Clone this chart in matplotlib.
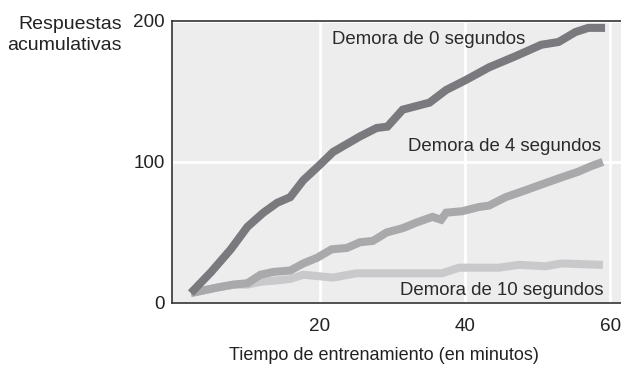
import matplotlib.pyplot as plt

# minutes of training and cumulative responses for each delay condition
min_0 = [2.2, 5.0, 7.7, 10.0, 12.2, 14.1, 15.9, 17.7, 20.0, 21.8, 25.5, 27.8, 29.3,
         31.4, 35.1, 37.4, 40.1, 43.3, 47.0, 50.5, 52.9, 55.2, 57.0, 59.3]
resp_0 = [7, 22, 38, 54, 64, 71, 75, 87, 98, 107, 118, 124, 125,
          137, 142, 151, 158, 167, 175, 183, 185, 192, 195, 195]

min_4 = [2.2, 5.9, 8.1, 10.0, 11.8, 13.6, 15.9, 17.7, 19.6, 21.6, 23.7, 25.5, 27.3, 29.2,
         31.4, 33.3, 35.5, 36.7, 37.4, 39.6, 41.9, 43.3, 45.6, 48.4, 51.1, 53.3, 55.6, 57.4, 59.0]
resp_4 = [7, 11, 13, 14, 20, 22, 23, 28, 32, 38, 39, 43, 44, 50,
          53, 57, 61, 59, 64, 65, 68, 69, 75, 80, 85, 89, 93, 97, 100]

min_10 = [2.2, 5.9, 8.1, 10.0, 11.8, 14.1, 15.9, 17.7, 21.8, 25.0, 26.8, 29.6,
          33.3, 36.8, 39.2, 44.7, 47.4, 51.1, 53.3, 59.0]
resp_10 = [7, 11, 13, 13, 15, 16, 17, 20, 18, 21, 21, 21,
           21, 21, 25, 25, 27, 26, 28, 27]

plt.rcParams['font.family'] = ['Liberation Sans', 'DejaVu Sans']

fig = plt.figure(figsize=(6.21, 3.65), dpi=100)
ax = fig.add_axes([0.277, 0.170, 0.723, 0.773])
ax.set_facecolor('#ededed')

ax.plot(min_10, resp_10, color='#c9c9cb', lw=5.8, solid_capstyle='butt', solid_joinstyle='miter', zorder=3)
ax.plot(min_4, resp_4, color='#a9a9ac', lw=5.8, solid_capstyle='butt', solid_joinstyle='miter', zorder=4)
ax.plot(min_0, resp_0, color='#7a7a7e', lw=5.8, solid_capstyle='butt', solid_joinstyle='miter', zorder=5)

ax.text(21.6, 187, 'Demora de 0 segundos', fontsize=13.4, color='#2a2a2a', va='center', zorder=6)
ax.text(32.2, 111, 'Demora de 4 segundos', fontsize=13.4, color='#2a2a2a', va='center', zorder=6)
ax.text(31.0, 9, 'Demora de 10 segundos', fontsize=13.4, color='#2a2a2a', va='center', zorder=6)

ax.set_xlim(-0.4, 61.5)
ax.set_ylim(0, 200)
ax.set_xticks([20, 40, 60])
ax.set_yticks([0, 100, 200])
ax.grid(True, color='white', lw=2)
ax.set_axisbelow(True)
ax.tick_params(length=0, labelsize=13.6, colors='#222222')
ax.tick_params(axis='x', pad=11)
ax.tick_params(axis='y', pad=5)

ax.spines['right'].set_visible(False)
for side in ['left', 'top', 'bottom']:
    ax.spines[side].set_color('#333333')
    ax.spines[side].set_linewidth(1.2)

fig.text(0.196, 0.903, 'Respuestas\nacumulativas', ha='right', va='center',
         fontsize=14, color='#222222', linespacing=1.3)
fig.text(0.618, 0.027, 'Tiempo de entrenamiento (en minutos)', ha='center', va='center',
         fontsize=13, color='#222222')

fig.savefig('out.png', dpi=100)
